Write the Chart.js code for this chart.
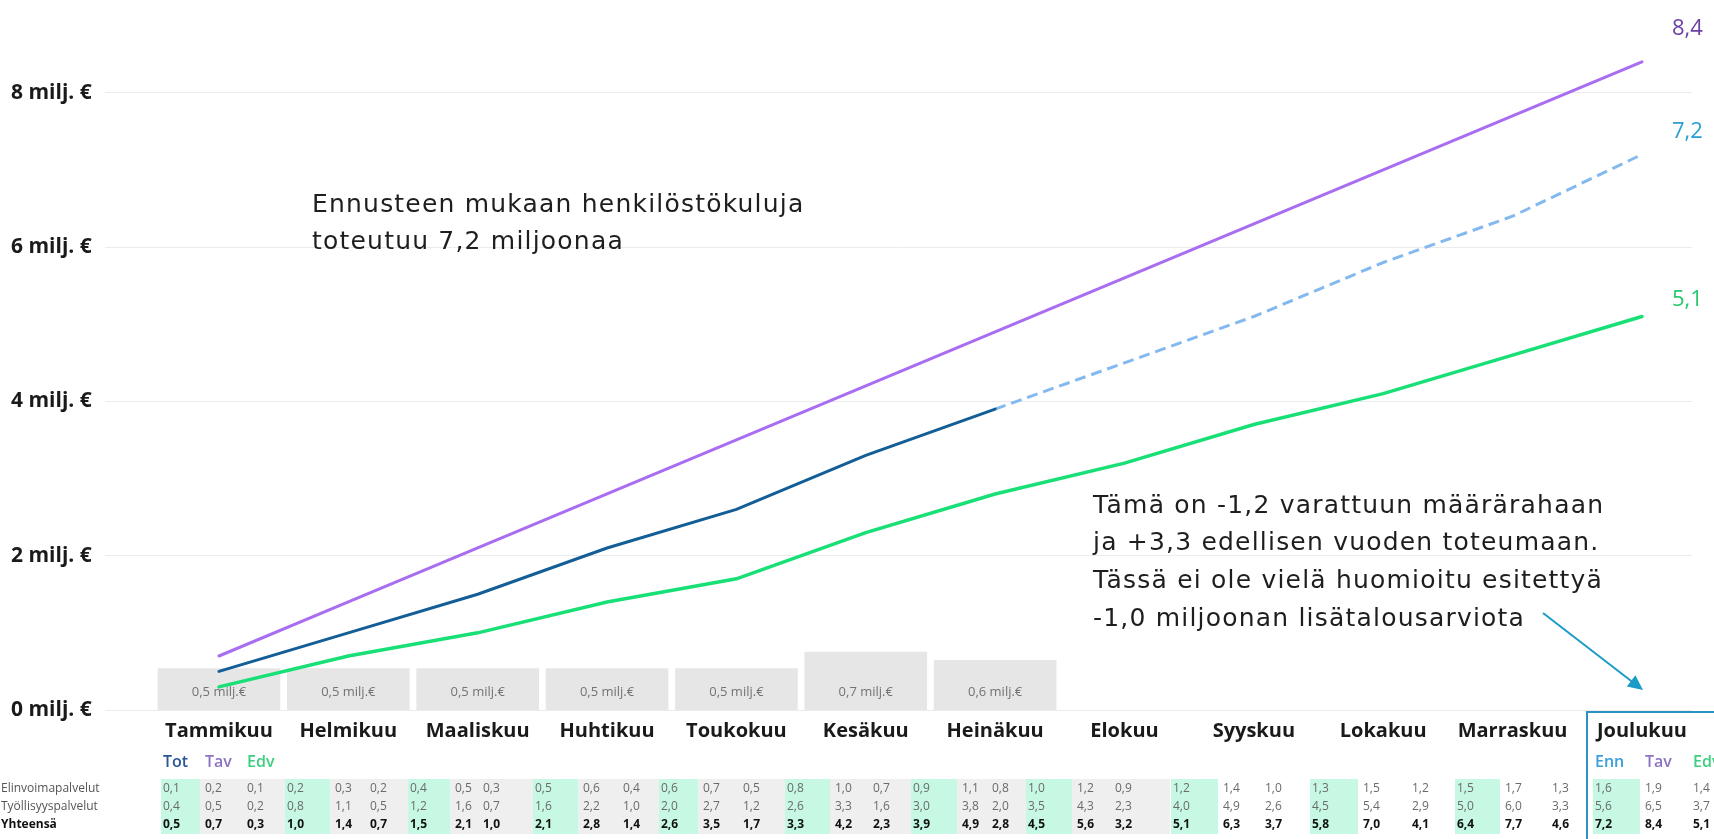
<!DOCTYPE html>
<html>
<head>
<meta charset="utf-8">
<script src="https://cdn.jsdelivr.net/npm/chart.js@4"></script>
<style>
  html, body { margin: 0; padding: 0; background: #fff; }
  #wrap { width: 1714px; height: 839px; position: relative; }
</style>
</head>
<body>
<div id="wrap"><canvas id="costChart"></canvas></div>
<script>
// Months (x axis)
const months = ['Tammikuu', 'Helmikuu', 'Maaliskuu', 'Huhtikuu', 'Toukokuu', 'Kesäkuu',
                'Heinäkuu', 'Elokuu', 'Syyskuu', 'Lokakuu', 'Marraskuu', 'Joulukuu'];

// Cumulative costs, milj. €
const totEnn = [0.5, 1.0, 1.5, 2.1, 2.6, 3.3, 3.9, 4.5, 5.1, 5.8, 6.4, 7.2]; // toteuma + ennuste
const tav    = [0.7, 1.4, 2.1, 2.8, 3.5, 4.2, 4.9, 5.6, 6.3, 7.0, 7.7, 8.4];
const edv    = [0.3, 0.7, 1.0, 1.4, 1.7, 2.3, 2.8, 3.2, 3.7, 4.1, 4.6, 5.1];
const actualMonths = 7; // Tammikuu..Heinäkuu are realised

// Monthly cost bars
const monthlyCost = [0.5, 0.5, 0.5, 0.5, 0.5, 0.7, 0.6];

const yTicks = [0, 2, 4, 6, 8];

// Table below the chart
const rowLabels = ['Elinvoimapalvelut', 'Työllisyyspalvelut', 'Yhteensä'];
const elinTot = [0.1, 0.2, 0.4, 0.5, 0.6, 0.8, 0.9, 1.0, 1.2, 1.3, 1.5, 1.6];
const elinTav = [0.2, 0.3, 0.5, 0.6, 0.7, 1.0, 1.1, 1.2, 1.4, 1.5, 1.7, 1.9];
const elinEdv = [0.1, 0.2, 0.3, 0.4, 0.5, 0.7, 0.8, 0.9, 1.0, 1.2, 1.3, 1.4];
const tyoTot  = [0.4, 0.8, 1.2, 1.6, 2.0, 2.6, 3.0, 3.5, 4.0, 4.5, 5.0, 5.6];
const tyoTav  = [0.5, 1.1, 1.6, 2.2, 2.7, 3.3, 3.8, 4.3, 4.9, 5.4, 6.0, 6.5];
const tyoEdv  = [0.2, 0.5, 0.7, 1.0, 1.2, 1.6, 2.0, 2.3, 2.6, 2.9, 3.3, 3.7];

// table column layout (left x of Tot / Tav / Edv per month)
const tableCols = [[163, 205, 247], [287, 335, 370], [410, 455, 483], [535, 583, 623],
                   [661, 703, 743], [787, 835, 873], [913, 962, 992], [1028, 1077, 1115],
                   [1173, 1223, 1265], [1312, 1363, 1412], [1457, 1505, 1552], [1595, 1645, 1693]];

const fmt = v => v.toFixed(1).replace('.', ',');
const pts = arr => arr.map((y, x) => ({ x, y }));

const actual = totEnn.slice(0, actualMonths);
const forecast = totEnn.map((v, i) => (i >= actualMonths - 1 ? v : null));

const C_TAV = '#a96df2', C_TOT = '#135e96', C_EDV = '#19e076', C_ENN = '#84b9ef';

Chart.defaults.font.family = '"Open Sans", sans-serif';

const overlay = {
  id: 'overlay',
  afterDatasetDraw(chart, args) {
    if (args.index !== 4) return;
    // labels inside the monthly bars
    const ctx = chart.ctx;
    ctx.save();
    ctx.font = '13px "Open Sans"';
    ctx.fillStyle = '#737373';
    ctx.textAlign = 'center';
    ctx.textBaseline = 'middle';
    args.meta.data.forEach((bar, i) => {
      ctx.fillText(fmt(monthlyCost[i]) + ' milj.€', bar.x, bar.base - 18);
    });
    ctx.restore();
  },
  afterDraw(chart) {
    const ctx = chart.ctx;
    ctx.save();

    // end labels
    ctx.font = '22px "Open Sans"';
    ctx.textAlign = 'left';
    ctx.textBaseline = 'middle';
    const ends = [[0, '#6b3fa3', -33, tav], [2, '#2a9fd6', -23, totEnn], [3, '#22c96a', -17, edv]];
    ends.forEach(([idx, col, dy, arr]) => {
      const p = chart.getDatasetMeta(idx).data[11];
      ctx.fillStyle = col;
      ctx.fillText(fmt(arr[11]), 1672, p.y + dy);
    });

    // annotations
    ctx.font = '25px "DejaVu Sans"';
    ctx.letterSpacing = '1.2px';
    ctx.fillStyle = '#1e1e1e';
    ctx.fillText('Ennusteen mukaan henkilöstökuluja', 312, 205);
    ctx.fillText('toteutuu 7,2 miljoonaa', 312, 242);
    ['Tämä on -1,2 varattuun määrärahaan', 'ja +3,3 edellisen vuoden toteumaan.',
     'Tässä ei ole vielä huomioitu esitettyä', '-1,0 miljoonan lisätalousarviota']
      .forEach((t, i) => ctx.fillText(t, 1093, 506 + i * 37.7));
    ctx.letterSpacing = '0px';

    // arrow
    ctx.strokeStyle = '#1a9cc8';
    ctx.fillStyle = '#1a9cc8';
    ctx.lineWidth = 2;
    const x0 = 1543, y0 = 613, x1 = 1643, y1 = 690;
    const ang = Math.atan2(y1 - y0, x1 - x0);
    ctx.beginPath();
    ctx.moveTo(x0, y0);
    ctx.lineTo(x1 - 12 * Math.cos(ang), y1 - 12 * Math.sin(ang));
    ctx.stroke();
    ctx.beginPath();
    ctx.moveTo(x1, y1);
    ctx.lineTo(x1 - 15 * Math.cos(ang) + 7 * Math.sin(ang), y1 - 15 * Math.sin(ang) - 7 * Math.cos(ang));
    ctx.lineTo(x1 - 15 * Math.cos(ang) - 7 * Math.sin(ang), y1 - 15 * Math.sin(ang) + 7 * Math.cos(ang));
    ctx.closePath();
    ctx.fill();

    // table backgrounds
    const top = 779, h = 55;
    ctx.fillStyle = '#efefef';
    ctx.fillRect(161, top, 1170 - 161, h);
    ctx.fillStyle = '#c6f8e4';
    tableCols.forEach(c => ctx.fillRect(c[0] - 2, top, c[1] - c[0] - 3, h));

    // headers
    ctx.font = '600 16px "Open Sans"';
    [['Tot', '#2b5797'], ['Tav', '#8e72c4'], ['Edv', '#3ccf7f']].forEach(([t, col], k) => {
      ctx.fillStyle = col;
      ctx.fillText(t, tableCols[0][k], 762);
    });
    [['Enn', '#3a9fdc'], ['Tav', '#8e72c4'], ['Edv', '#3ccf7f']].forEach(([t, col], k) => {
      ctx.fillStyle = col;
      ctx.fillText(t, tableCols[11][k], 762);
    });

    // rows
    const rows = [[elinTot, elinTav, elinEdv], [tyoTot, tyoTav, tyoEdv], [totEnn, tav, edv]];
    const rowY = [789, 807, 825];
    rows.forEach((cols, r) => {
      const bold = r === 2;
      ctx.font = (bold ? 'bold ' : '') + '12px "Open Sans"';
      ctx.fillStyle = bold ? '#111' : '#555';
      ctx.fillText(rowLabels[r], 1, rowY[r]);
      ctx.font = (bold ? 'bold ' : '') + '12px "Open Sans"';
      ctx.fillStyle = bold ? '#111' : '#6a6a6a';
      months.forEach((m, i) => {
        cols.forEach((arr, k) => ctx.fillText(fmt(arr[i]), tableCols[i][k], rowY[r]));
      });
    });

    // Joulukuu box
    ctx.strokeStyle = '#2b93c4';
    ctx.lineWidth = 2;
    ctx.strokeRect(1587, 712, 160, 160);
    ctx.restore();
  }
};

new Chart(document.getElementById('costChart'), {
  data: {
    datasets: [
      { type: 'line', label: 'Tav', data: pts(tav), borderColor: C_TAV, borderWidth: 3,
        pointRadius: 0, tension: 0, borderCapStyle: 'round', order: 1 },
      { type: 'line', label: 'Tot', data: pts(actual), borderColor: C_TOT, borderWidth: 3,
        pointRadius: 0, tension: 0, borderCapStyle: 'round', order: 1 },
      { type: 'line', label: 'Enn', data: pts(forecast), borderColor: C_ENN, borderWidth: 3,
        borderDash: [11, 6], pointRadius: 0, tension: 0, order: 1 },
      { type: 'line', label: 'Edv', data: pts(edv), borderColor: C_EDV, borderWidth: 3.5,
        pointRadius: 0, tension: 0, borderCapStyle: 'round', order: 1 },
      { type: 'bar', label: 'Kuukausi', data: pts(monthlyCost), yAxisID: 'y2',
        backgroundColor: '#e6e6e6', barThickness: 122, order: 5 }
    ]
  },
  options: {
    responsive: true,
    maintainAspectRatio: false,
    animation: false,
    layout: { padding: { left: 11, right: 22, top: 3.5, bottom: 0 } },
    plugins: { legend: { display: false }, tooltip: { enabled: false } },
    scales: {
      x: {
        type: 'linear', min: -0.881, max: 11.387, offset: false,
        grid: { display: false, drawTicks: false },
        border: { display: false },
        afterBuildTicks: s => { s.ticks = months.map((m, i) => ({ value: i })); },
        afterFit: s => { s.height = 129; },
        ticks: {
          autoSkip: false, maxRotation: 0, padding: 9, color: '#1a1a1a',
          font: { size: 20, weight: 'bold' },
          callback: v => months[v]
        }
      },
      y: {
        min: 0, max: 9,
        afterBuildTicks: s => { s.ticks = yTicks.map(v => ({ value: v })); },
        afterFit: s => { s.width = 94; },
        grid: { color: '#ebebeb', drawTicks: false },
        border: { display: false },
        ticks: {
          crossAlign: 'far', color: '#1a1a1a',
          font: { size: 21, weight: 'bold' },
          callback: v => v + ' milj. €'
        }
      },
      y2: { display: false, min: 0, max: 8.4 }
    }
  },
  plugins: [overlay]
});
</script>
</body>
</html>
